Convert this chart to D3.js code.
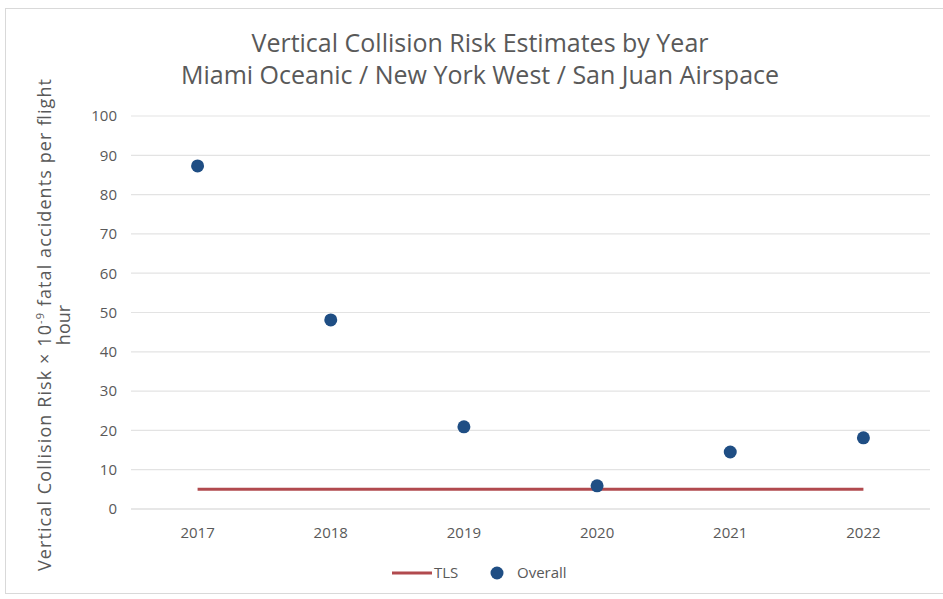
<!DOCTYPE html>
<html>
<head>
<meta charset="utf-8">
<script src="https://cdn.jsdelivr.net/npm/d3@7"></script>
<style>
  body { margin: 0; background: #fff; }
  text { font-family: 'Open Sans', sans-serif; fill: #595959; }
</style>
</head>
<body>
<div id="chart"></div>
<script>
const years = ['2017', '2018', '2019', '2020', '2021', '2022'];
const overall = [87.3, 48.1, 20.9, 5.9, 14.5, 18.1];
const tls = [5, 5, 5, 5, 5, 5];
const yTicks = [0, 10, 20, 30, 40, 50, 60, 70, 80, 90, 100];

const width = 943, height = 599;
const margin = { top: 116, right: 13, bottom: 90, left: 131 };
const font = "'Open Sans', sans-serif";

const svg = d3.select('#chart').append('svg')
  .attr('width', width)
  .attr('height', height);

svg.append('rect')
  .attr('x', 5.5).attr('y', 8.5)
  .attr('width', width + 10).attr('height', height - 14)
  .attr('fill', '#fff')
  .attr('stroke', '#d9d9d9');

const x = d3.scaleBand()
  .domain(years)
  .range([margin.left, width - margin.right]);

const y = d3.scaleLinear()
  .domain([0, 100])
  .range([height - margin.bottom, margin.top]);

// gridlines
svg.append('g')
  .selectAll('line')
  .data(yTicks)
  .join('line')
  .attr('x1', margin.left)
  .attr('x2', width - margin.right)
  .attr('y1', (d) => y(d))
  .attr('y2', (d) => y(d))
  .attr('stroke', (d) => d === 0 ? '#d0d0d0' : '#e3e3e3')
  .attr('stroke-width', 1.2);

// y axis labels
const yAxis = svg.append('g')
  .attr('transform', `translate(${margin.left - 12},0)`)
  .call(d3.axisLeft(y).tickValues(yTicks).tickSize(0).tickPadding(2));
yAxis.select('.domain').remove();
yAxis.selectAll('text')
  .style('font-size', '15px')
  .style('font-family', font)
  .attr('fill', '#595959');

// x axis labels
const xAxis = svg.append('g')
  .attr('transform', `translate(0,${y(0)})`)
  .call(d3.axisBottom(x).tickSize(0).tickPadding(18));
xAxis.select('.domain').remove();
xAxis.selectAll('text')
  .style('font-size', '15px')
  .style('font-family', font)
  .attr('fill', '#595959');

const cx = (d) => x(d) + x.bandwidth() / 2;

// TLS line
const line = d3.line()
  .x((d, i) => cx(years[i]))
  .y((d) => y(d));

svg.append('path')
  .datum(tls)
  .attr('d', line)
  .attr('fill', 'none')
  .attr('stroke', '#b14a4e')
  .attr('stroke-width', 3);

// Overall points
svg.append('g')
  .selectAll('circle')
  .data(overall)
  .join('circle')
  .attr('cx', (d, i) => cx(years[i]))
  .attr('cy', (d) => y(d))
  .attr('r', 6.5)
  .attr('fill', '#1f4e84');

// title
const title = svg.append('text')
  .attr('text-anchor', 'middle')
  .style('font-size', '25px');
title.append('tspan').attr('x', 480).attr('y', 52).text('Vertical Collision  Risk Estimates by Year');
title.append('tspan').attr('x', 480).attr('y', 84).text('Miami Oceanic / New York West / San Juan Airspace');

// y axis title
const yt = svg.append('text')
  .attr('transform', 'translate(51,325) rotate(-90)')
  .attr('text-anchor', 'middle')
  .attr('textLength', 492)
  .attr('lengthAdjust', 'spacing')
  .style('font-size', '18px');
yt.append('tspan').text('Vertical Collision Risk \u00d7 10');
yt.append('tspan').attr('dy', -7).style('font-size', '11px').text('-9');
yt.append('tspan').attr('dy', 7).text(' fatal accidents per flight');
svg.append('text')
  .attr('transform', 'translate(70,325) rotate(-90)')
  .attr('text-anchor', 'middle')
  .style('font-size', '18px')
  .text('hour');

// legend
const legend = svg.append('g').attr('transform', 'translate(0,573)');
legend.append('line')
  .attr('x1', 392).attr('x2', 432)
  .attr('stroke', '#b14a4e').attr('stroke-width', 3);
legend.append('text')
  .attr('x', 434).attr('y', 5)
  .style('font-size', '15px')
  .text('TLS');
legend.append('circle')
  .attr('cx', 497).attr('cy', 0).attr('r', 6.5)
  .attr('fill', '#1f4e84');
legend.append('text')
  .attr('x', 517).attr('y', 5)
  .style('font-size', '15px')
  .text('Overall');
</script>
</body>
</html>
